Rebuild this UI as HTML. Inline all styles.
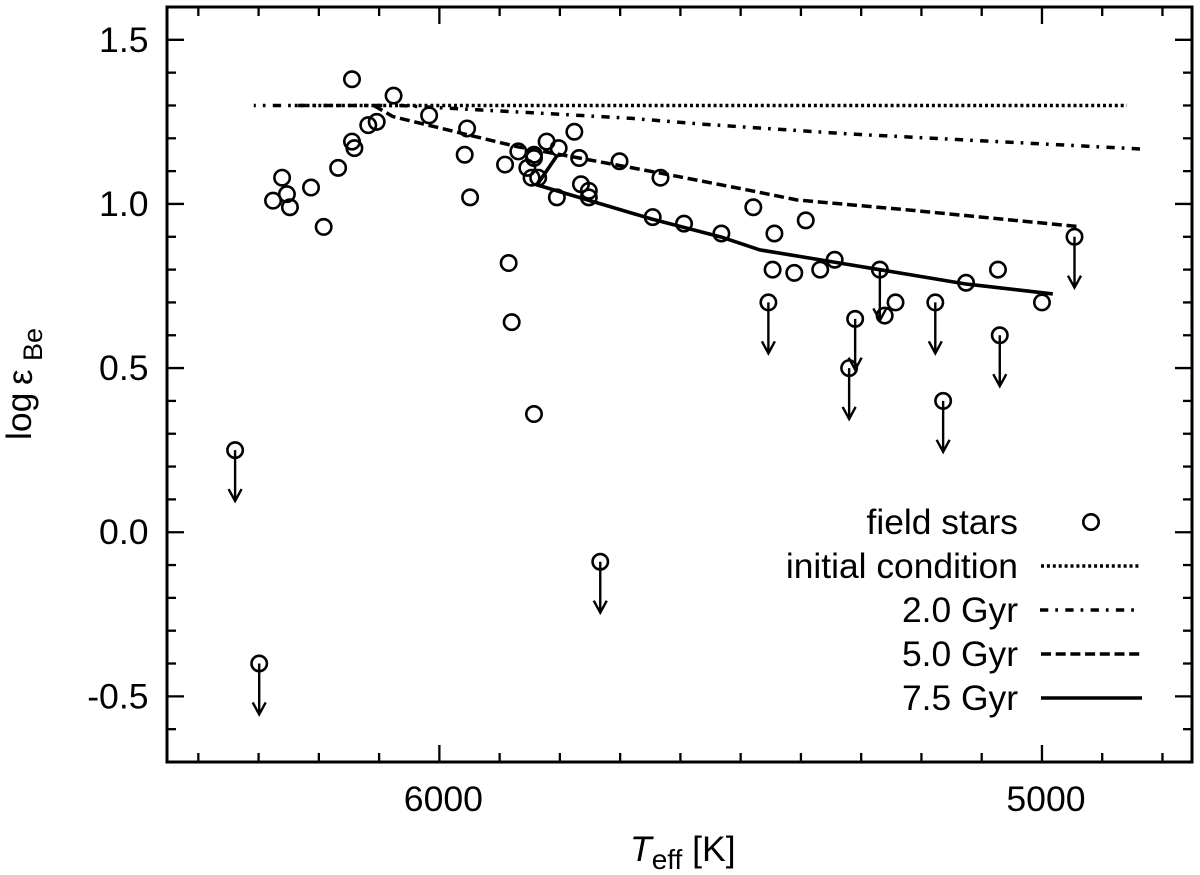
<!DOCTYPE html>
<html>
<head>
<meta charset="utf-8">
<title>Beryllium abundance vs effective temperature</title>
<style>
html,body{margin:0;padding:0;background:#fff;}
svg{display:block;}
text{font-family:"Liberation Sans",sans-serif;fill:#000;}
</style>
</head>
<body>
<svg id="chart" xmlns="http://www.w3.org/2000/svg" width="1200" height="875" viewBox="0 0 1200 875">
  <g id="ticks"></g>
  <g id="tick-labels" font-size="35.6"></g>
  <g id="series-lines"></g>
  <g id="series-stars"></g>
  <g id="series-limits"></g>
  <rect x="167" y="7" width="1025" height="755" fill="none" stroke="#000" stroke-width="3"/>

  <text font-size="35.5" y="861" x="630"><tspan font-style="italic">T</tspan><tspan font-size="28" dy="8">eff</tspan><tspan dy="-8"> [K]</tspan></text>
  <g>
    <text font-size="35.5" transform="translate(31,440) rotate(-90)">log</text>
    <text font-size="35" transform="translate(32,385) rotate(-90)">ε</text>
    <text font-size="27" transform="translate(42,361) rotate(-90)">Be</text>
  </g>

  <g font-size="35.4" text-anchor="end">
    <text x="1018" y="534">field stars</text>
    <circle cx="1091" cy="522" r="7.7" fill="none" stroke="#000" stroke-width="2.6"/>
    <text x="1018" y="578">initial condition</text>
    <line x1="1041" x2="1139" y1="566" y2="566" stroke="#000" stroke-width="3.5" stroke-dasharray="3 2.9"/>
    <text x="1018" y="622">2.0 Gyr</text>
    <line x1="1040" x2="1134" y1="610" y2="610" stroke="#000" stroke-width="3.5" stroke-dasharray="8.3 7 2.7 7.3"/>
    <text x="1018" y="666">5.0 Gyr</text>
    <line x1="1041" x2="1142" y1="654" y2="654" stroke="#000" stroke-width="3.5" stroke-dasharray="10 4.7"/>
    <text x="1018" y="710">7.5 Gyr</text>
    <line x1="1041" x2="1142" y1="698" y2="698" stroke="#000" stroke-width="3.6"/>
  </g>
</svg>
<script>
var xMajorTicks = [6000, 5000];
var xMinorTicks = [6400, 6300, 6200, 6100, 5900, 5800, 5700, 5600, 5500, 5400, 5300, 5200, 5100, 4900, 4800];
var yMajorTicks = [1.5, 1.0, 0.5, 0.0, -0.5];
var yMinorTicks = [1.4, 1.3, 1.2, 1.1, 0.9, 0.8, 0.7, 0.6, 0.4, 0.3, 0.2, 0.1, -0.1, -0.2, -0.3, -0.4, -0.6];
var xTickLabels = ['6000', '5000'];
var yTickLabels = ['1.5', '1.0', '0.5', '0.0', '-0.5'];

var starTeff = [6276, 6261, 6253, 6248, 6213, 6192, 6168, 6145, 6145, 6141, 6118, 6104, 6076, 6017, 5954, 5958, 5949, 5891, 5885, 5880, 5869, 5854, 5847, 5843, 5843, 5843, 5836, 5822, 5805, 5802, 5776, 5768, 5765, 5752, 5752, 5701, 5646, 5633, 5594, 5532, 5479, 5447, 5444, 5411, 5392, 5368, 5344, 5261, 5243, 5126, 5073, 5000];
var starBe = [1.01, 1.08, 1.03, 0.99, 1.05, 0.93, 1.11, 1.38, 1.19, 1.17, 1.24, 1.25, 1.33, 1.27, 1.23, 1.15, 1.02, 1.12, 0.82, 0.64, 1.16, 1.11, 1.08, 1.15, 1.14, 0.36, 1.08, 1.19, 1.02, 1.17, 1.22, 1.14, 1.06, 1.04, 1.02, 1.13, 0.96, 1.08, 0.94, 0.91, 0.99, 0.80, 0.91, 0.79, 0.95, 0.80, 0.83, 0.66, 0.70, 0.76, 0.80, 0.70];

var limitTeff = [6339, 6299, 5733, 5454, 5320, 5310, 5269, 5177, 5164, 5070, 4946];
var limitBe = [0.25, -0.40, -0.09, 0.70, 0.50, 0.65, 0.80, 0.70, 0.40, 0.60, 0.90];

var initialTeff = [6240, 4859];
var initialBe = [1.30, 1.30];
var gyr2Teff = [6308, 6066, 5978, 5808, 5683, 5562, 5492, 5318, 4833];
var gyr2Be = [1.30, 1.30, 1.291, 1.274, 1.261, 1.243, 1.234, 1.213, 1.167];
var gyr5Teff = [6109, 6077, 5974, 5870, 5768, 5633, 5490, 5406, 5223, 4939];
var gyr5Be = [1.30, 1.266, 1.22, 1.174, 1.14, 1.094, 1.043, 1.012, 0.982, 0.931];
var gyr7Teff = [5804, 5838, 5647, 5532, 5468, 5345, 5125, 4982];
var gyr7Be = [1.149, 1.058, 0.954, 0.899, 0.86, 0.823, 0.756, 0.726];

var NS = 'http://www.w3.org/2000/svg';
var plotLeft = 167, plotRight = 1192, plotTop = 7, plotBottom = 762;
var teffStart = 6452, teffEnd = 4751, beTop = 1.6, beBottom = -0.7;
var limitDrop = 0.155;

function xScale(t) { return plotLeft + (teffStart - t) / (teffStart - teffEnd) * (plotRight - plotLeft); }
function yScale(v) { return plotTop + (beTop - v) / (beTop - beBottom) * (plotBottom - plotTop); }

function make(tag, attrs, parent) {
  var el = document.createElementNS(NS, tag);
  for (var k in attrs) { el.setAttribute(k, attrs[k]); }
  parent.appendChild(el);
  return el;
}

var tickGroup = document.getElementById('ticks');
var labelGroup = document.getElementById('tick-labels');
var lineGroup = document.getElementById('series-lines');
var starGroup = document.getElementById('series-stars');
var limitGroup = document.getElementById('series-limits');

function drawXTick(t, len) {
  var x = xScale(t);
  var bottom = make('line', {x1: x, x2: x, y1: plotBottom, y2: plotBottom - len, stroke: '#000', 'stroke-width': 2.3}, tickGroup);
  
  
  var top = make('line', {x1: x, x2: x, y1: plotTop, y2: plotTop + len, stroke: '#000', 'stroke-width': 2.3}, tickGroup);
  
  
}
function drawYTick(v, len) {
  var y = yScale(v);
  var left = make('line', {x1: plotLeft, x2: plotLeft + len, y1: y, y2: y, stroke: '#000', 'stroke-width': 2.3}, tickGroup);
  
  
  var right = make('line', {x1: plotRight, x2: plotRight - len, y1: y, y2: y, stroke: '#000', 'stroke-width': 2.3}, tickGroup);
  
  
}
xMajorTicks.forEach(function (t, i) {
  drawXTick(t, 17);
  var label = make('text', {x: xScale(t) + 4, y: 811, 'text-anchor': 'middle'}, labelGroup);
  
  
  label.textContent = xTickLabels[i];
});
xMinorTicks.forEach(function (t) { drawXTick(t, 9); });
yMajorTicks.forEach(function (v, i) {
  drawYTick(v, 17);
  var label = make('text', {x: 148.5, y: yScale(v) + 12, 'text-anchor': 'end'}, labelGroup);
  
  
  label.textContent = yTickLabels[i];
});
yMinorTicks.forEach(function (v) { drawYTick(v, 9); });

function drawLine(ts, vs, name, dash, width, offset) {
  var d = ts.map(function (t, i) { return (i ? 'L' : 'M') + xScale(t).toFixed(1) + ' ' + yScale(vs[i]).toFixed(1); }).join(' ');
  var p = make('path', {d: d, fill: 'none', stroke: '#000', 'stroke-width': width, 'stroke-linejoin': 'round'}, lineGroup);
  if (dash) { p.setAttribute('stroke-dasharray', dash); }
  if (offset) { p.setAttribute('stroke-dashoffset', offset); }
  
  
}
drawLine(initialTeff, initialBe, 'line-initial-condition', '3 2.9', 3.5, 0);
drawLine(gyr2Teff, gyr2Be, 'line-2-gyr', '8.3 7 2.7 7.3', 3.5, 6.3);
drawLine(gyr5Teff, gyr5Be, 'line-5-gyr', '10 4.7', 3.5, 0);
drawLine(gyr7Teff, gyr7Be, 'line-7-gyr', '', 3.6, 0);

starTeff.forEach(function (t, i) {
  var c = make('circle', {cx: xScale(t), cy: yScale(starBe[i]), r: 7.7, fill: 'none', stroke: '#000', 'stroke-width': 2.6}, starGroup);
  
  
});

limitTeff.forEach(function (t, i) {
  var x = xScale(t), y0 = yScale(limitBe[i]), y1 = yScale(limitBe[i] - limitDrop);
  var c = make('circle', {cx: x, cy: y0, r: 7.7, fill: 'none', stroke: '#000', 'stroke-width': 2.6}, limitGroup);
  
  
  var a = make('path', {d: 'M' + x + ' ' + y0 + ' L' + x + ' ' + y1 + ' M' + (x - 6.5) + ' ' + (y1 - 12) + ' L' + x + ' ' + y1 + ' L' + (x + 6.5) + ' ' + (y1 - 12), fill: 'none', stroke: '#000', 'stroke-width': 2.4}, limitGroup);
  
  
});
</script>
</body>
</html>
